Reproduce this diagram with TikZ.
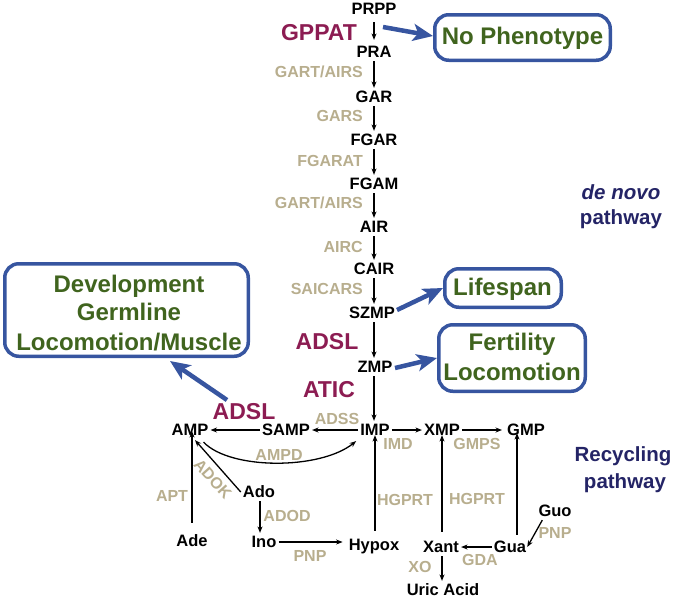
\documentclass[tikz,border=0pt]{standalone}
\usepackage{fontspec}
\setmainfont{Liberation Sans}
\usetikzlibrary{arrows.meta}
\definecolor{maroon}{RGB}{140,28,82}
\definecolor{tan}{RGB}{184,174,142}
\definecolor{leaf}{RGB}{64,100,30}
\definecolor{boxblue}{RGB}{55,85,160}
\definecolor{navy}{RGB}{36,36,102}
\begin{document}
\begin{tikzpicture}[x=1pt,y=-1pt,
  met/.style={font=\fontsize{16.5}{18}\selectfont\bfseries, text=black, inner xsep=2pt, inner ysep=3pt, text height=11.8pt, text depth=0pt},
  enz/.style={font=\fontsize{16}{18}\selectfont\bfseries, text=tan, inner sep=0pt, text height=11.5pt, text depth=0pt},
  gene/.style={font=\fontsize{23}{26}\selectfont\bfseries, text=maroon, inner sep=0pt, text height=16.5pt, text depth=0pt},
  pheno/.style={font=\fontsize{24}{28}\selectfont\bfseries, text=leaf, inner sep=0pt, text height=17.2pt, text depth=0pt},
  pathlbl/.style={font=\fontsize{20.5}{24}\selectfont\bfseries, text=navy, inner sep=0pt, text height=14.7pt, text depth=0pt},
  phenobox/.style={draw=boxblue, line width=3.5pt, rounded corners=14pt, fill=white, inner sep=0pt},
  arr/.style={draw=black, line width=1.3pt, -{Stealth[length=6.5pt,width=5pt]}},
  bluearr/.style={draw=boxblue, line width=4.5pt, -{Stealth[length=20pt,width=17pt,inset=5pt]}}]
\useasboundingbox (0,0) rectangle (677,598);
\coordinate (col) at (374,0);

% de novo column
\node[met] (PRPP) at (374,9) {PRPP};
\node[met] (PRA) at (374,52) {PRA};
\node[met] (GAR) at (374,97) {GAR};
\node[met] (FGAR) at (374,140) {FGAR};
\node[met] (FGAM) at (374,184) {FGAM};
\node[met] (AIR) at (374,227) {AIR};
\node[met] (CAIR) at (374,269) {CAIR};
\node[met] (SZMP) at (372,313) {SZMP};
\node[met] (ZMP) at (375,367) {ZMP};
\node[met] (IMP) at (375,430) {IMP};

\draw[arr, shorten <=4pt, shorten >=3pt] (PRPP.south -| col) -- (PRA.north -| col);
\draw[arr] (PRA.south -| col) -- (GAR.north -| col);
\draw[arr] (GAR.south -| col) -- (FGAR.north -| col);
\draw[arr] (FGAR.south -| col) -- (FGAM.north -| col);
\draw[arr] (FGAM.south -| col) -- (AIR.north -| col);
\draw[arr] (AIR.south -| col) -- (CAIR.north -| col);
\draw[arr] (CAIR.south -| col) -- (SZMP.north -| col);
\draw[arr] (SZMP.south -| col) -- (ZMP.north -| col);
\draw[arr] (ZMP.south -| col) -- (IMP.north -| col);

\node[enz, anchor=east] (e1) at (363,72) {GART/AIRS};
\node[enz, anchor=east] (e2) at (363,116) {GARS};
\node[enz, anchor=east] (e3) at (363,161) {FGARAT};
\node[enz, anchor=east] (e4) at (363,203) {GART/AIRS};
\node[enz, anchor=east] (e5) at (363,247) {AIRC};
\node[enz, anchor=east] (e6) at (363,289) {SAICARS};

\node[gene] (gppat) at (319,32) {GPPAT};
\node[gene] (adsl1) at (327,341) {ADSL};
\node[gene] (atic) at (329,389) {ATIC};
\node[gene] (adsl2) at (244,411) {ADSL};

% phenotype boxes
\node[phenobox, minimum width=175.5pt, minimum height=45.5pt] (nopheno) at (522.5,37.5) {};
\node[pheno] (t1) at (522.5,36) {No Phenotype};
\node[phenobox, minimum width=116.5pt, minimum height=38.5pt] (lifespan) at (503,288) {};
\node[pheno] (t2) at (502.5,286.5) {Lifespan};
\node[phenobox, minimum width=146.5pt, minimum height=66.5pt] (fertil) at (512,358) {};
\node[pheno] (t3) at (512,341.5) {Fertility};
\node[pheno] (t4) at (512,371.5) {Locomotion};
\node[phenobox, minimum width=243.5pt, minimum height=92.5pt] (devel) at (126.5,310) {};
\node[pheno] (t5) at (129,283.5) {Development};
\node[pheno] (t6) at (129,311.5) {Germline};
\node[pheno] (t7) at (129,341.5) {Locomotion/Muscle};

\coordinate (b1) at (383,27);
\coordinate (b2) at (397,310);
\coordinate (b3) at (395,368);
\coordinate (b4) at (227,400);
\coordinate (devtip) at (170,361);
\draw[bluearr] (b1) -- ([yshift=1.5pt]nopheno.west);
\draw[bluearr] (b2) -- (lifespan.west);
\draw[bluearr] (b3) -- (fertil.west);
\draw[bluearr] (b4) -- (devtip);

% pathway labels
\node[pathlbl, font=\fontsize{20.5}{24}\selectfont\bfseries\itshape] (dn) at (621,192.5) {de novo};
\node[pathlbl] (dn2) at (621,217) {pathway};
\node[pathlbl] (rc) at (623,454) {Recycling};
\node[pathlbl] (rc2) at (625,481) {pathway};

% recycling part
\node[met] (AMP) at (190,430) {AMP};
\node[met] (SAMP) at (286,430) {SAMP};
\node[met] (XMP) at (442,430) {XMP};
\node[met] (GMP) at (526,430) {GMP};
\node[met] (Ado) at (259,492) {Ado};
\node[met] (Ade) at (192,541) {Ade};
\node[met] (Ino) at (264,542) {Ino};
\node[met] (Hypox) at (374,545) {Hypox};
\node[met] (Xant) at (441,547) {Xant};
\node[met] (Gua) at (510,547) {Gua};
\node[met] (Guo) at (555,511) {Guo};
\node[met] (Uric) at (443,590) {Uric Acid};

\node[enz] (adss) at (337,419) {ADSS};
\node[enz] (imd) at (398,444) {IMD};
\node[enz] (gmps) at (477,444) {GMPS};
\node[enz] (ampd) at (279,455) {AMPD};
\node[enz, rotate=-48] (adok) at (213,479) {ADOK};
\node[enz] (apt) at (172,496) {APT};
\node[enz] (adod) at (287,516) {ADOD};
\node[enz] (pnp1) at (310,556) {PNP};
\node[enz] (hg1) at (405,500) {HGPRT};
\node[enz] (hg2) at (477,499) {HGPRT};
\node[enz] (gda) at (480,560) {GDA};
\node[enz] (xo) at (420,567) {XO};
\node[enz] (pnp2) at (555,533) {PNP};

\draw[arr] (SAMP) -- (AMP);
\draw[arr] (IMP) -- (SAMP);
\draw[arr] (IMP) -- (XMP);
\draw[arr, shorten >=3pt] (XMP) -- (GMP);
\draw[arr] ([xshift=-7pt,yshift=-3pt]AMP.south east) .. controls (230,470) and (320,470) .. ([xshift=-2pt,yshift=-2pt]IMP.south west);
\draw[arr, shorten <=9pt, shorten >=-8pt] (Ade.north) -- (Ade.north |- AMP.south);
\draw[arr] (Ado.west) -- ([xshift=5pt,yshift=-1pt]AMP.south);
\draw[arr] ([xshift=1pt]Ado.south) -- ([xshift=1pt]Ado.south |- Ino.north);
\draw[arr, shorten >=4pt] (Ino.east) -- (Ino.east -| Hypox.west);
\draw[arr, shorten <=5pt, shorten >=-4pt] (Hypox.north -| IMP) -- (IMP.south);
\draw[arr, shorten <=6pt, shorten >=-4pt] ([xshift=1pt]Xant.north) -- ([xshift=1pt]Xant.north |- XMP.south);
\draw[arr] ([xshift=1pt]Xant.south) -- ([xshift=1pt]Xant.south |- Uric.north);
\draw[arr] (Gua.west) -- (Xant.east);
\draw[arr, shorten <=3pt, shorten >=-6pt] ([xshift=7pt]Gua.north) -- ([xshift=7pt]Gua.north |- GMP.south);
\draw[arr] ([xshift=6pt]Guo.south west) -- ([xshift=-1pt]Gua.east);
\end{tikzpicture}
\end{document}
